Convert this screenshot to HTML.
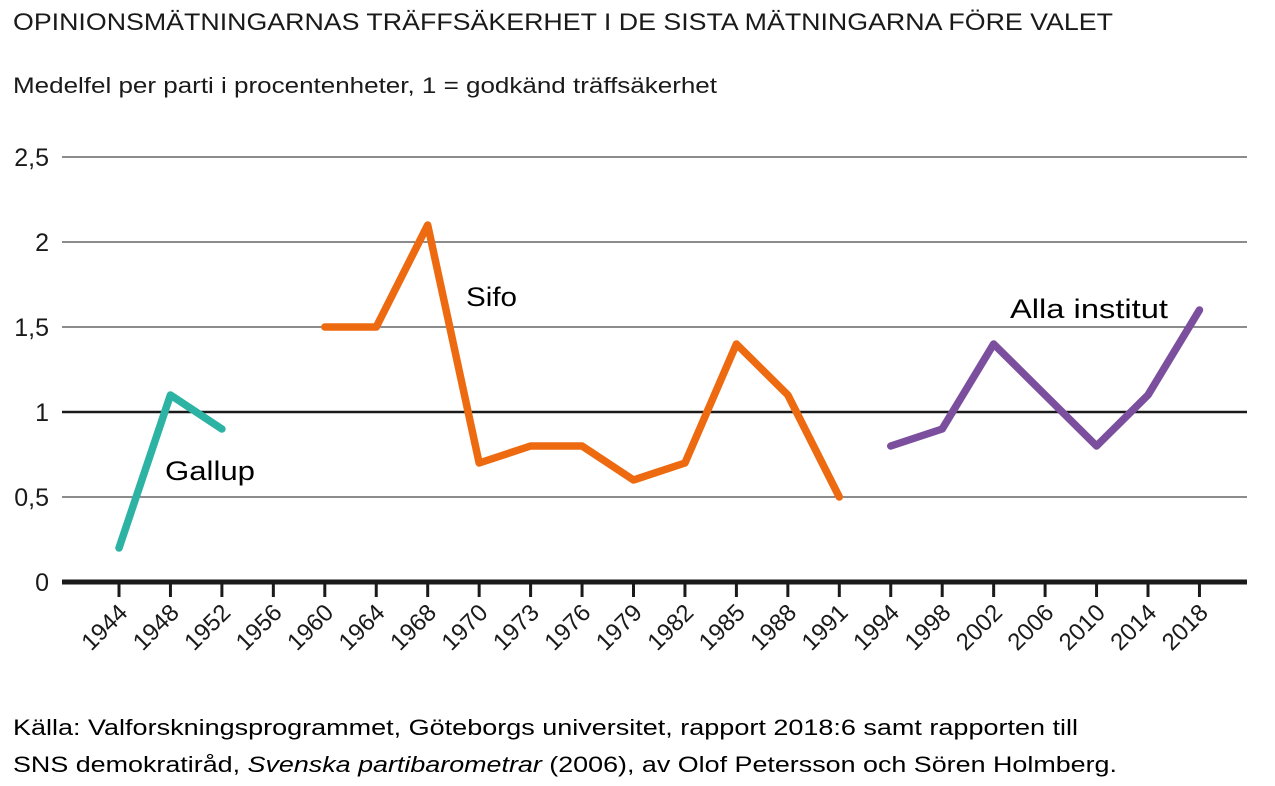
<!DOCTYPE html>
<html><head><meta charset="utf-8"><style>
body{margin:0;background:#fff;font-family:"Liberation Sans",sans-serif;color:#1a1a1a}
</style></head><body>
<svg width="1275" height="786" style="display:block">
<text x="13" y="30" font-size="24" textLength="1100" lengthAdjust="spacingAndGlyphs" fill="#1a1a1a">OPINIONSMÄTNINGARNAS TRÄFFSÄKERHET I DE SISTA MÄTNINGARNA FÖRE VALET</text>
<text x="13" y="93" font-size="22" textLength="704" lengthAdjust="spacingAndGlyphs" fill="#1a1a1a">Medelfel per parti i procentenheter, 1 = godkänd träffsäkerhet</text>
<g id="grid"></g><g id="series"></g><g id="labels"></g>
<text x="165" y="480" font-size="27" textLength="90" lengthAdjust="spacingAndGlyphs">Gallup</text>
<text x="466" y="306" font-size="27" textLength="51" lengthAdjust="spacingAndGlyphs">Sifo</text>
<text x="1010" y="318" font-size="27" textLength="158" lengthAdjust="spacingAndGlyphs">Alla institut</text>
<text x="13" y="735" font-size="22" textLength="1065" lengthAdjust="spacingAndGlyphs">Källa: Valforskningsprogrammet, Göteborgs universitet, rapport 2018:6 samt rapporten till</text>
<text x="13" y="772" font-size="22" textLength="1104" lengthAdjust="spacingAndGlyphs">SNS demokratiråd, <tspan font-style="italic">Svenska partibarometrar</tspan> (2006), av Olof Petersson och Sören Holmberg.</text>
</svg>
<script>
const categories=["1944","1948","1952","1956","1960","1964","1968","1970","1973","1976","1979","1982","1985","1988","1991","1994","1998","2002","2006","2010","2014","2018"];
const yTicks=[0,0.5,1,1.5,2,2.5];
const yTickLabels=["0","0,5","1","1,5","2","2,5"];
const gallupYears=["1944","1948","1952"];
const gallupValues=[0.2,1.1,0.9];
const sifoYears=["1960","1964","1968","1970","1973","1976","1979","1982","1985","1988","1991"];
const sifoValues=[1.5,1.5,2.1,0.7,0.8,0.8,0.6,0.7,1.4,1.1,0.5];
const allaYears=["1994","1998","2002","2006","2010","2014","2018"];
const allaValues=[0.8,0.9,1.4,1.1,0.8,1.1,1.6];
const NS="http://www.w3.org/2000/svg";
const x=c=>119+categories.indexOf(c)*51.45;
const y=v=>582-v*170;
function mk(t,a,p){const e=document.createElementNS(NS,t);for(const k in a)e.setAttribute(k,a[k]);p.appendChild(e);return e;}
const grid=document.getElementById('grid'),ser=document.getElementById('series'),lab=document.getElementById('labels');
yTicks.forEach((v,i)=>{
 const l=mk('line',{x1:62,x2:1247,y1:y(v),y2:y(v),stroke:'#1a1a1a','stroke-width':v===0?5:(v===1?2.5:1)},grid);
 
 
 const t=mk('text',{x:49,y:y(v)+9,'font-size':25,'text-anchor':'end',fill:'#1a1a1a'},lab);
 t.textContent=yTickLabels[i];
 
 
});
categories.forEach(c=>{
 const tk=mk('line',{x1:x(c),x2:x(c),y1:582,y2:597,stroke:'#1a1a1a','stroke-width':3},grid);
 
 
 const t=mk('text',{x:0,y:0,'font-size':24,'text-anchor':'end',fill:'#1a1a1a',transform:`translate(${x(c)+10},${614}) rotate(-45)`},lab);
 t.textContent=c;
 
 
});
function line(years,vals,col,name){
 const p=mk('polyline',{points:years.map((c,i)=>x(c)+','+y(vals[i])).join(' '),fill:'none',stroke:col,'stroke-width':7.5,'stroke-linejoin':'round','stroke-linecap':'round'},ser);
 
 
}
line(gallupYears,gallupValues,'#2db3a3','gallup-line');
line(sifoYears,sifoValues,'#ee6a10','sifo-line');
line(allaYears,allaValues,'#7b4f9d','alla-institut-line');
</script>
</body></html>
